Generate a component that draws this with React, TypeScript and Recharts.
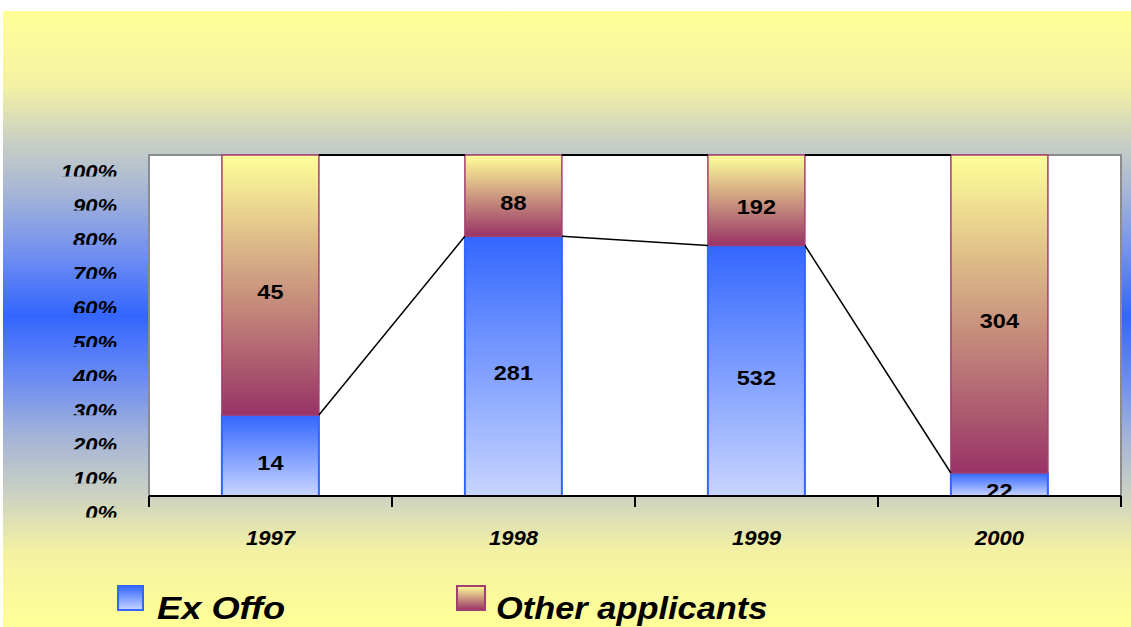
import React from "react";
import { BarChart, Bar, XAxis, YAxis, ReferenceArea, LabelList } from "recharts";

// Applications by year, split into ex officio and other applicants
const years = ["1997", "1998", "1999", "2000"];
const exOffo = [14, 281, 532, 22];
const otherApplicants = [45, 88, 192, 304];
const yTicks = [0, 0.1, 0.2, 0.3, 0.4, 0.5, 0.6, 0.7, 0.8, 0.9, 1];
const seriesNames = ["Ex Offo", "Other applicants"];

const data = years.map((year, i) => ({
  year,
  exOffo: exOffo[i],
  other: otherApplicants[i],
}));

const W = 1131;
const H = 627;
const Y_AXIS_W = 60;
const MARGIN = { top: 155, right: 10, left: 89, bottom: 91 };
const X_AXIS_H = 40;
const PLOT_W = W - MARGIN.left - Y_AXIS_W - MARGIN.right;
const HALF_BAND = PLOT_W / years.length / 2;

const FONT = "'Liberation Sans', Arial, sans-serif";

// Positions of the previous stacked column, used to draw Excel-style series lines
const columnTops: { right: number; mid: number; top: number }[] = [];

const OtherShape = (props: any) => {
  const { x, y, width, height, index } = props;
  const mid = y + height;
  const prev = index > 0 ? columnTops[index - 1] : null;
  columnTops[index] = { right: x + width, mid, top: y };
  return (
    <g>
      <rect
        x={x}
        y={y}
        width={width}
        height={height}
        fill="url(#gradOther)"
        stroke="#A33F70"
        strokeWidth={1.5}
      />
      {prev && (
        <>
          <line x1={prev.right} y1={prev.mid} x2={x} y2={mid} stroke="#000" strokeWidth={1.5} />
          <line x1={prev.right} y1={prev.top} x2={x} y2={y} stroke="#000" strokeWidth={2} />
        </>
      )}
    </g>
  );
};

let labelClipId = 0;
const ValueLabel = (props: any) => {
  const { x, y, width, height, value } = props;
  const cx = x + width / 2;
  const cy = y + height / 2;
  const id = `lblclip-${labelClipId++}`;
  return (
    <g>
      <defs>
        <clipPath id={id}>
          <rect x={x - 20} y={y - 20} width={width + 40} height={height + 19} />
        </clipPath>
      </defs>
      <g clipPath={`url(#${id})`}>
        <text
          transform={`translate(${cx} ${cy + 14}) scale(1.12 1)`}
          textAnchor="middle"
          fontFamily={FONT}
          fontWeight="bold"
          fontSize={21}
          fill="#000"
        >
          {value}
        </text>
      </g>
    </g>
  );
};

const YTick = (props: any) => {
  const { x, y, payload, index } = props;
  const id = `ytickclip-${index}`;
  return (
    <g>
      <defs>
        <clipPath id={id}>
          <rect x={x - 80} y={y} width={90} height={21.5} />
        </clipPath>
      </defs>
      <g clipPath={`url(#${id})`}>
        <text
          transform={`translate(${x - 1} ${y + 24}) scale(1.1 1)`}
          textAnchor="end"
          fontFamily={FONT}
          fontWeight="bold"
          fontStyle="italic"
          fontSize={20}
          fill="#000"
        >
          {`${Math.round(payload.value * 100)}%`}
        </text>
      </g>
    </g>
  );
};

const XTick = (props: any) => {
  const { x, y, payload, index } = props;
  const last = index === years.length - 1;
  return (
    <g>
      <line x1={x - HALF_BAND} y1={y} x2={x - HALF_BAND} y2={y + 11} stroke="#000" strokeWidth={2} />
      {last && (
        <line x1={x + HALF_BAND} y1={y} x2={x + HALF_BAND} y2={y + 11} stroke="#000" strokeWidth={2} />
      )}
      <text
        transform={`translate(${x} ${y + 49}) scale(1.05 1)`}
        textAnchor="middle"
        fontFamily={FONT}
        fontWeight="bold"
        fontStyle="italic"
        fontSize={21}
        fill="#000"
      >
        {payload.value}
      </text>
    </g>
  );
};

const LegendOverlay = () => (
  <svg
    width={W}
    height={H}
    style={{ position: "absolute", left: 0, top: 0, pointerEvents: "none" }}
  >
    <defs>
      <linearGradient id="legEx" x1="0" y1="0" x2="0" y2="1">
        <stop offset="0%" stopColor="#3366FF" />
        <stop offset="100%" stopColor="#C8D5FF" />
      </linearGradient>
      <linearGradient id="legOther" x1="0" y1="0" x2="0" y2="1">
        <stop offset="0%" stopColor="#FFFF99" />
        <stop offset="100%" stopColor="#993366" />
      </linearGradient>
    </defs>
    <rect x={118} y={586} width={25} height={24} fill="url(#legEx)" stroke="#3366FF" strokeWidth={2} />
    <text
      transform="translate(157 619) scale(1.17 1)"
      fontFamily={FONT}
      fontWeight="bold"
      fontStyle="italic"
      fontSize={31}
      fill="#000"
    >
      {seriesNames[0]}
    </text>
    <rect x={457} y={586} width={28} height={24} fill="url(#legOther)" stroke="#A33F70" strokeWidth={2} />
    <text
      transform="translate(496 619) scale(1.11 1)"
      fontFamily={FONT}
      fontWeight="bold"
      fontStyle="italic"
      fontSize={31}
      fill="#000"
    >
      {seriesNames[1]}
    </text>
  </svg>
);

export default function App() {
  labelClipId = 0;
  return (
    <div
      style={{
        position: "absolute",
        left: 0,
        top: 0,
        width: W,
        height: H,
        overflow: "hidden",
        background: "#fff",
      }}
    >
      <div
        style={{
          position: "absolute",
          left: 3,
          top: 11,
          width: W - 3,
          height: H - 11,
          background:
            "linear-gradient(to bottom, #FFFF99 0%, #F4F2A2 12%, #CAD0C4 21%, #A3B3D8 30%, #6E8DF2 40%, #3366FF 49.5%, #6E8DF2 60%, #A3B3D8 69%, #CAD0C4 78%, #F4F2A2 88%, #FFFF99 100%)",
        }}
      />
      <div style={{ position: "absolute", left: 0, top: 0 }}>
        <BarChart
          width={W}
          height={H}
          data={data}
          margin={MARGIN}
          stackOffset="expand"
          barCategoryGap="30%"
        >
          <defs>
            <linearGradient id="gradEx" x1="0" y1="0" x2="0" y2="1">
              <stop offset="0%" stopColor="#3366FF" />
              <stop offset="100%" stopColor="#C8D5FF" />
            </linearGradient>
            <linearGradient id="gradOther" x1="0" y1="0" x2="0" y2="1">
              <stop offset="0%" stopColor="#FFFF99" />
              <stop offset="100%" stopColor="#993366" />
            </linearGradient>
          </defs>
          <ReferenceArea
            y1={0}
            y2={1}
            fill="#FFFFFF"
            fillOpacity={1}
            stroke="#8C8C8C"
            strokeWidth={2}
            ifOverflow="visible"
          />
          <XAxis
            dataKey="year"
            height={X_AXIS_H}
            interval={0}
            tickLine={false}
            tickSize={0}
            tickMargin={0}
            axisLine={{ stroke: "#000", strokeWidth: 2 }}
            tick={<XTick />}
          />
          <YAxis
            width={Y_AXIS_W}
            domain={[0, 1]}
            ticks={yTicks}
            axisLine={false}
            tickLine={false}
            tickSize={0}
            tickMargin={31}
            tick={<YTick />}
          />
          <Bar
            dataKey="exOffo"
            name={seriesNames[0]}
            stackId="a"
            fill="url(#gradEx)"
            stroke="#3366FF"
            strokeWidth={2}
            isAnimationActive={false}
          >
            <LabelList dataKey="exOffo" content={<ValueLabel />} />
          </Bar>
          <Bar
            dataKey="other"
            name={seriesNames[1]}
            stackId="a"
            shape={<OtherShape />}
            isAnimationActive={false}
          >
            <LabelList dataKey="other" content={<ValueLabel />} />
          </Bar>
        </BarChart>
      </div>
      <LegendOverlay />
    </div>
  );
}
